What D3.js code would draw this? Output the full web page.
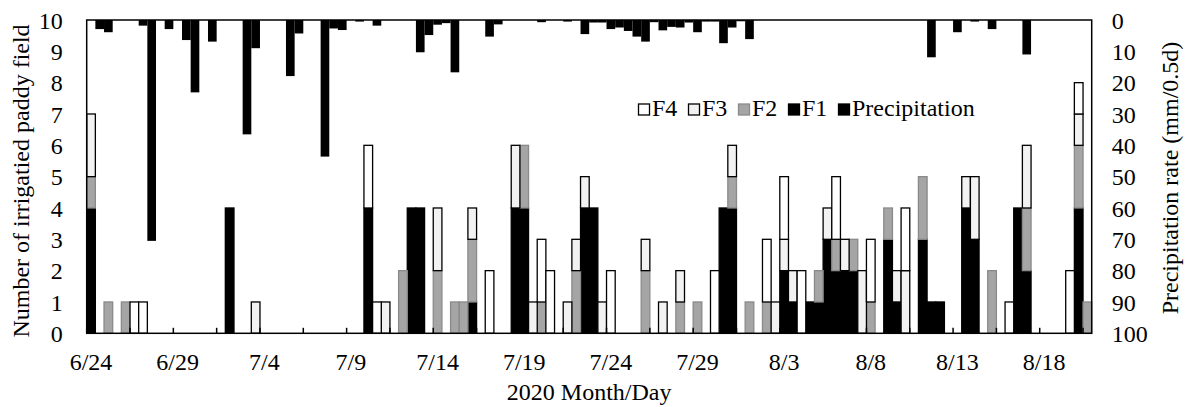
<!DOCTYPE html>
<html><head><meta charset="utf-8">
<script src="https://cdn.jsdelivr.net/npm/d3@7"></script>
<style>
html,body{margin:0;padding:0;background:#fff;}
svg text{font-family:"Liberation Serif","Times New Roman",serif;fill:#000;}
</style></head>
<body><svg id="c" width="1187" height="407"></svg>
<script>
// Days (each split into two half-day categories)
const days = ["6/24","6/25","6/26","6/27","6/28","6/29","6/30",
"7/1","7/2","7/3","7/4","7/5","7/6","7/7","7/8","7/9","7/10","7/11","7/12","7/13","7/14","7/15","7/16","7/17","7/18","7/19","7/20","7/21","7/22","7/23","7/24","7/25","7/26","7/27","7/28","7/29","7/30","7/31",
"8/1","8/2","8/3","8/4","8/5","8/6","8/7","8/8","8/9","8/10","8/11","8/12","8/13","8/14","8/15","8/16","8/17","8/18","8/19","8/20"];
const halves = ["AM","PM"];
const tickLabels = ["6/24","6/29","7/4","7/9","7/14","7/19","7/24","7/29","8/3","8/8","8/13","8/18"];

// Number of irrigated paddy fields per half-day
const F1 = [4,0,0,0,0,0,0,0,0,0, 0,0,0,0,0,0,4,0,0,0, 0,0,0,0,0,0,0,0,0,0,
            0,0,4,0,0,0,0,4,4,0, 0,0,0,0,1,0,0,0,0,4, 4,0,0,0,0,0,0,4,4,0,
            0,0,0,0,0,0,0,0,0,0, 0,0,0,4,4,0,0,0,0,0, 2,1,0,1,1,3,2,2,2,0,
            0,0,3,1,0,0,3,1,1,0, 0,4,3,0,0,0,0,4,2,0, 0,0,0,0,4,0];
const F2 = [1,0,1,0,1,0,0,0,0,0, 0,0,0,0,0,0,0,0,0,0, 0,0,0,0,0,0,0,0,0,0,
            0,0,0,0,0,0,2,0,0,0, 2,0,1,1,2,0,0,0,0,0, 2,0,1,0,0,0,2,0,0,0,
            0,0,0,0,2,0,0,0,1,0, 1,0,0,0,1,0,1,0,1,0, 0,0,0,0,1,0,1,0,1,0,
            1,0,1,0,0,0,2,0,0,0, 0,0,0,0,2,0,0,0,2,0, 0,0,0,0,2,1];
const F3 = [2,0,0,0,0,0,0,0,0,0, 0,0,0,0,0,0,0,0,0,1, 0,0,0,0,0,0,0,0,0,0,
            0,0,0,0,1,0,0,0,0,0, 2,0,0,0,1,0,0,0,0,2, 0,1,0,0,0,1,1,1,0,1,
            0,0,0,0,1,0,1,0,1,0, 0,0,0,0,1,0,0,0,0,1, 1,1,0,0,0,1,0,1,0,2,
            0,0,0,1,2,0,0,0,0,0, 0,1,2,0,0,0,0,0,2,0, 0,0,0,0,1,0];
const F4 = [0,0,0,0,0,1,1,0,0,0, 0,0,0,0,0,0,0,0,0,0, 0,0,0,0,0,0,0,0,0,0,
            0,0,2,1,0,0,0,0,0,0, 0,0,0,0,0,0,2,0,0,0, 0,0,2,2,0,0,0,0,0,0,
            2,0,0,0,0,0,0,0,0,0, 0,0,2,0,0,0,0,0,2,0, 2,0,2,0,0,0,2,0,0,0,
            2,0,0,0,2,0,0,0,0,0, 0,0,0,0,0,0,1,0,0,0, 0,0,0,2,1,0];
// Precipitation (mm per half day)
const precip = [0,2.9,3.9,0,0,0,1.8,70.5,0,2.9, 0,6.4,23.1,0,6.9,0,0,0,36.5,9.0, 0,0,0,17.9,4.3,0,0,43.6,2.7,3.2,
            0,0.5,0,1.8,0,0,0,0,10.3,4.8, 1.5,1.0,16.7,0,0,0,5.3,1.4,0,0, 0,0,0.7,0,0,0.5,0,4.5,0.8,0.8,
            2.9,2.4,3.5,5.3,6.9,0.7,3.3,2.2,2.4,0.8, 3.9,0.5,0.5,7.4,2.4,0.4,6.1,0,0,0, 0,0,0,0,0,0,0,0,0,0,
            0,0,0,0,0,0,0,11.9,0,0, 3.9,0,0.5,0,2.9,0,0,0,11,0, 0,0,0,0,0,0];

const categories = [];
days.forEach(d => halves.forEach(h => categories.push(d + " " + h)));
const rows = categories.map((c, i) => ({cat: c, F1: F1[i], F2: F2[i], F3: F3[i], F4: F4[i], P: precip[i]}));

const L = 86.7, R = 1091.7, T = 20, B = 333.3;
const svg = d3.select("#c");
const x = d3.scaleBand().domain(categories).range([L, R]).padding(0);
const yL = d3.scaleLinear().domain([0, 10]).range([B, T]);
const yR = d3.scaleLinear().domain([0, 100]).range([T, B]);

const keys = ["F1","F2","F3","F4"];
const fills = {F1:"#000000", F2:"#a5a5a5", F3:"#f2f2f2", F4:"#ffffff"};
const strokes = {F1:"#000000", F2:"#8a8a8a", F3:"#000000", F4:"#000000"};
const stack = d3.stack().keys(keys)(rows);

svg.append("g").selectAll("g").data(stack).join("g")
  .attr("fill", d => fills[d.key]).attr("stroke", d => strokes[d.key]).attr("stroke-width", 1.3)
  .selectAll("rect").data(d => d.filter(s => s[1] > s[0])).join("rect")
  .attr("x", d => x(d.data.cat)).attr("width", x.bandwidth())
  .attr("y", d => yL(d[1])).attr("height", d => yL(d[0]) - yL(d[1]));

// precipitation bars hanging from the top
svg.append("g").attr("fill", "#000")
  .selectAll("rect").data(rows.filter(r => r.P > 0)).join("rect")
  .attr("x", d => x(d.cat)).attr("width", x.bandwidth())
  .attr("y", yR(0)).attr("height", d => yR(d.P) - yR(0));

// plot frame
svg.append("rect").attr("x", L).attr("y", T).attr("width", R - L).attr("height", B - T)
  .attr("fill", "none").attr("stroke", "#000").attr("stroke-width", 1.5);

// inner tick marks every 5 categories on the x axis
const tickIdx = d3.range(0, categories.length + 1, 5);
svg.append("g").selectAll("line").data(tickIdx).join("line")
  .attr("x1", i => i < categories.length ? x(categories[i]) : R)
  .attr("x2", i => i < categories.length ? x(categories[i]) : R)
  .attr("y1", B).attr("y2", B - 5.5).attr("stroke", "#000").attr("stroke-width", 1.5);

// x labels
const labelCats = tickLabels.map(t => t + " AM");
const xAxis = svg.append("g").attr("transform", `translate(0,${B})`)
  .call(d3.axisBottom(x).tickValues(labelCats).tickSize(0).tickPadding(0).tickFormat(d => d.split(" ")[0]));
xAxis.select(".domain").remove();
xAxis.selectAll("text").attr("font-size", 24).attr("dy", null).attr("y", 37)
  .attr("font-family", "Liberation Serif").attr("transform", `translate(${x.bandwidth()/2 - x.bandwidth()/2},0)`);

// left axis
const la = svg.append("g").attr("transform", `translate(${L},0)`)
  .call(d3.axisLeft(yL).tickValues(d3.range(0, 11)).tickSize(0).tickPadding(24));
la.select(".domain").remove();
la.selectAll("text").attr("font-size", 24).attr("font-family", "Liberation Serif").attr("dy", "0.34em");

// right axis
const ra = svg.append("g").attr("transform", `translate(${R},0)`)
  .call(d3.axisRight(yR).tickValues(d3.range(0, 101, 10)).tickSize(0).tickPadding(20));
ra.select(".domain").remove();
ra.selectAll("text").attr("font-size", 24).attr("font-family", "Liberation Serif").attr("dy", "0.34em");

// titles
svg.append("text").attr("transform", "translate(29,181) rotate(-90)").attr("text-anchor", "middle")
  .attr("font-size", 24).text("Number of irrigatied paddy field");
svg.append("text").attr("transform", "translate(1178,178) rotate(-90)").attr("text-anchor", "middle")
  .attr("font-size", 24).text("Precipitation rate (mm/0.5d)");
svg.append("text").attr("x", (L + R) / 2).attr("y", 400).attr("text-anchor", "middle")
  .attr("font-size", 24).text("2020 Month/Day");

// legend
const legendItems = [
  {name:"F4", fill:fills.F4, stroke:"#000"},
  {name:"F3", fill:fills.F3, stroke:"#000"},
  {name:"F2", fill:fills.F2, stroke:strokes.F2},
  {name:"F1", fill:"#000", stroke:"#000"},
  {name:"Precipitation", fill:"#000", stroke:"#000"}
];
const lg = svg.append("g").selectAll("g").data(legendItems).join("g")
  .attr("transform", (d, i) => `translate(${638 + i * 50},104)`);
lg.append("rect").attr("x", 0.5).attr("y", 0).attr("width", 11).attr("height", 11)
  .attr("fill", d => d.fill).attr("stroke", d => d.stroke).attr("stroke-width", 1.3);
lg.append("text").attr("x", 14).attr("y", 11.5).attr("font-size", 24).text(d => d.name);
</script></body></html>
